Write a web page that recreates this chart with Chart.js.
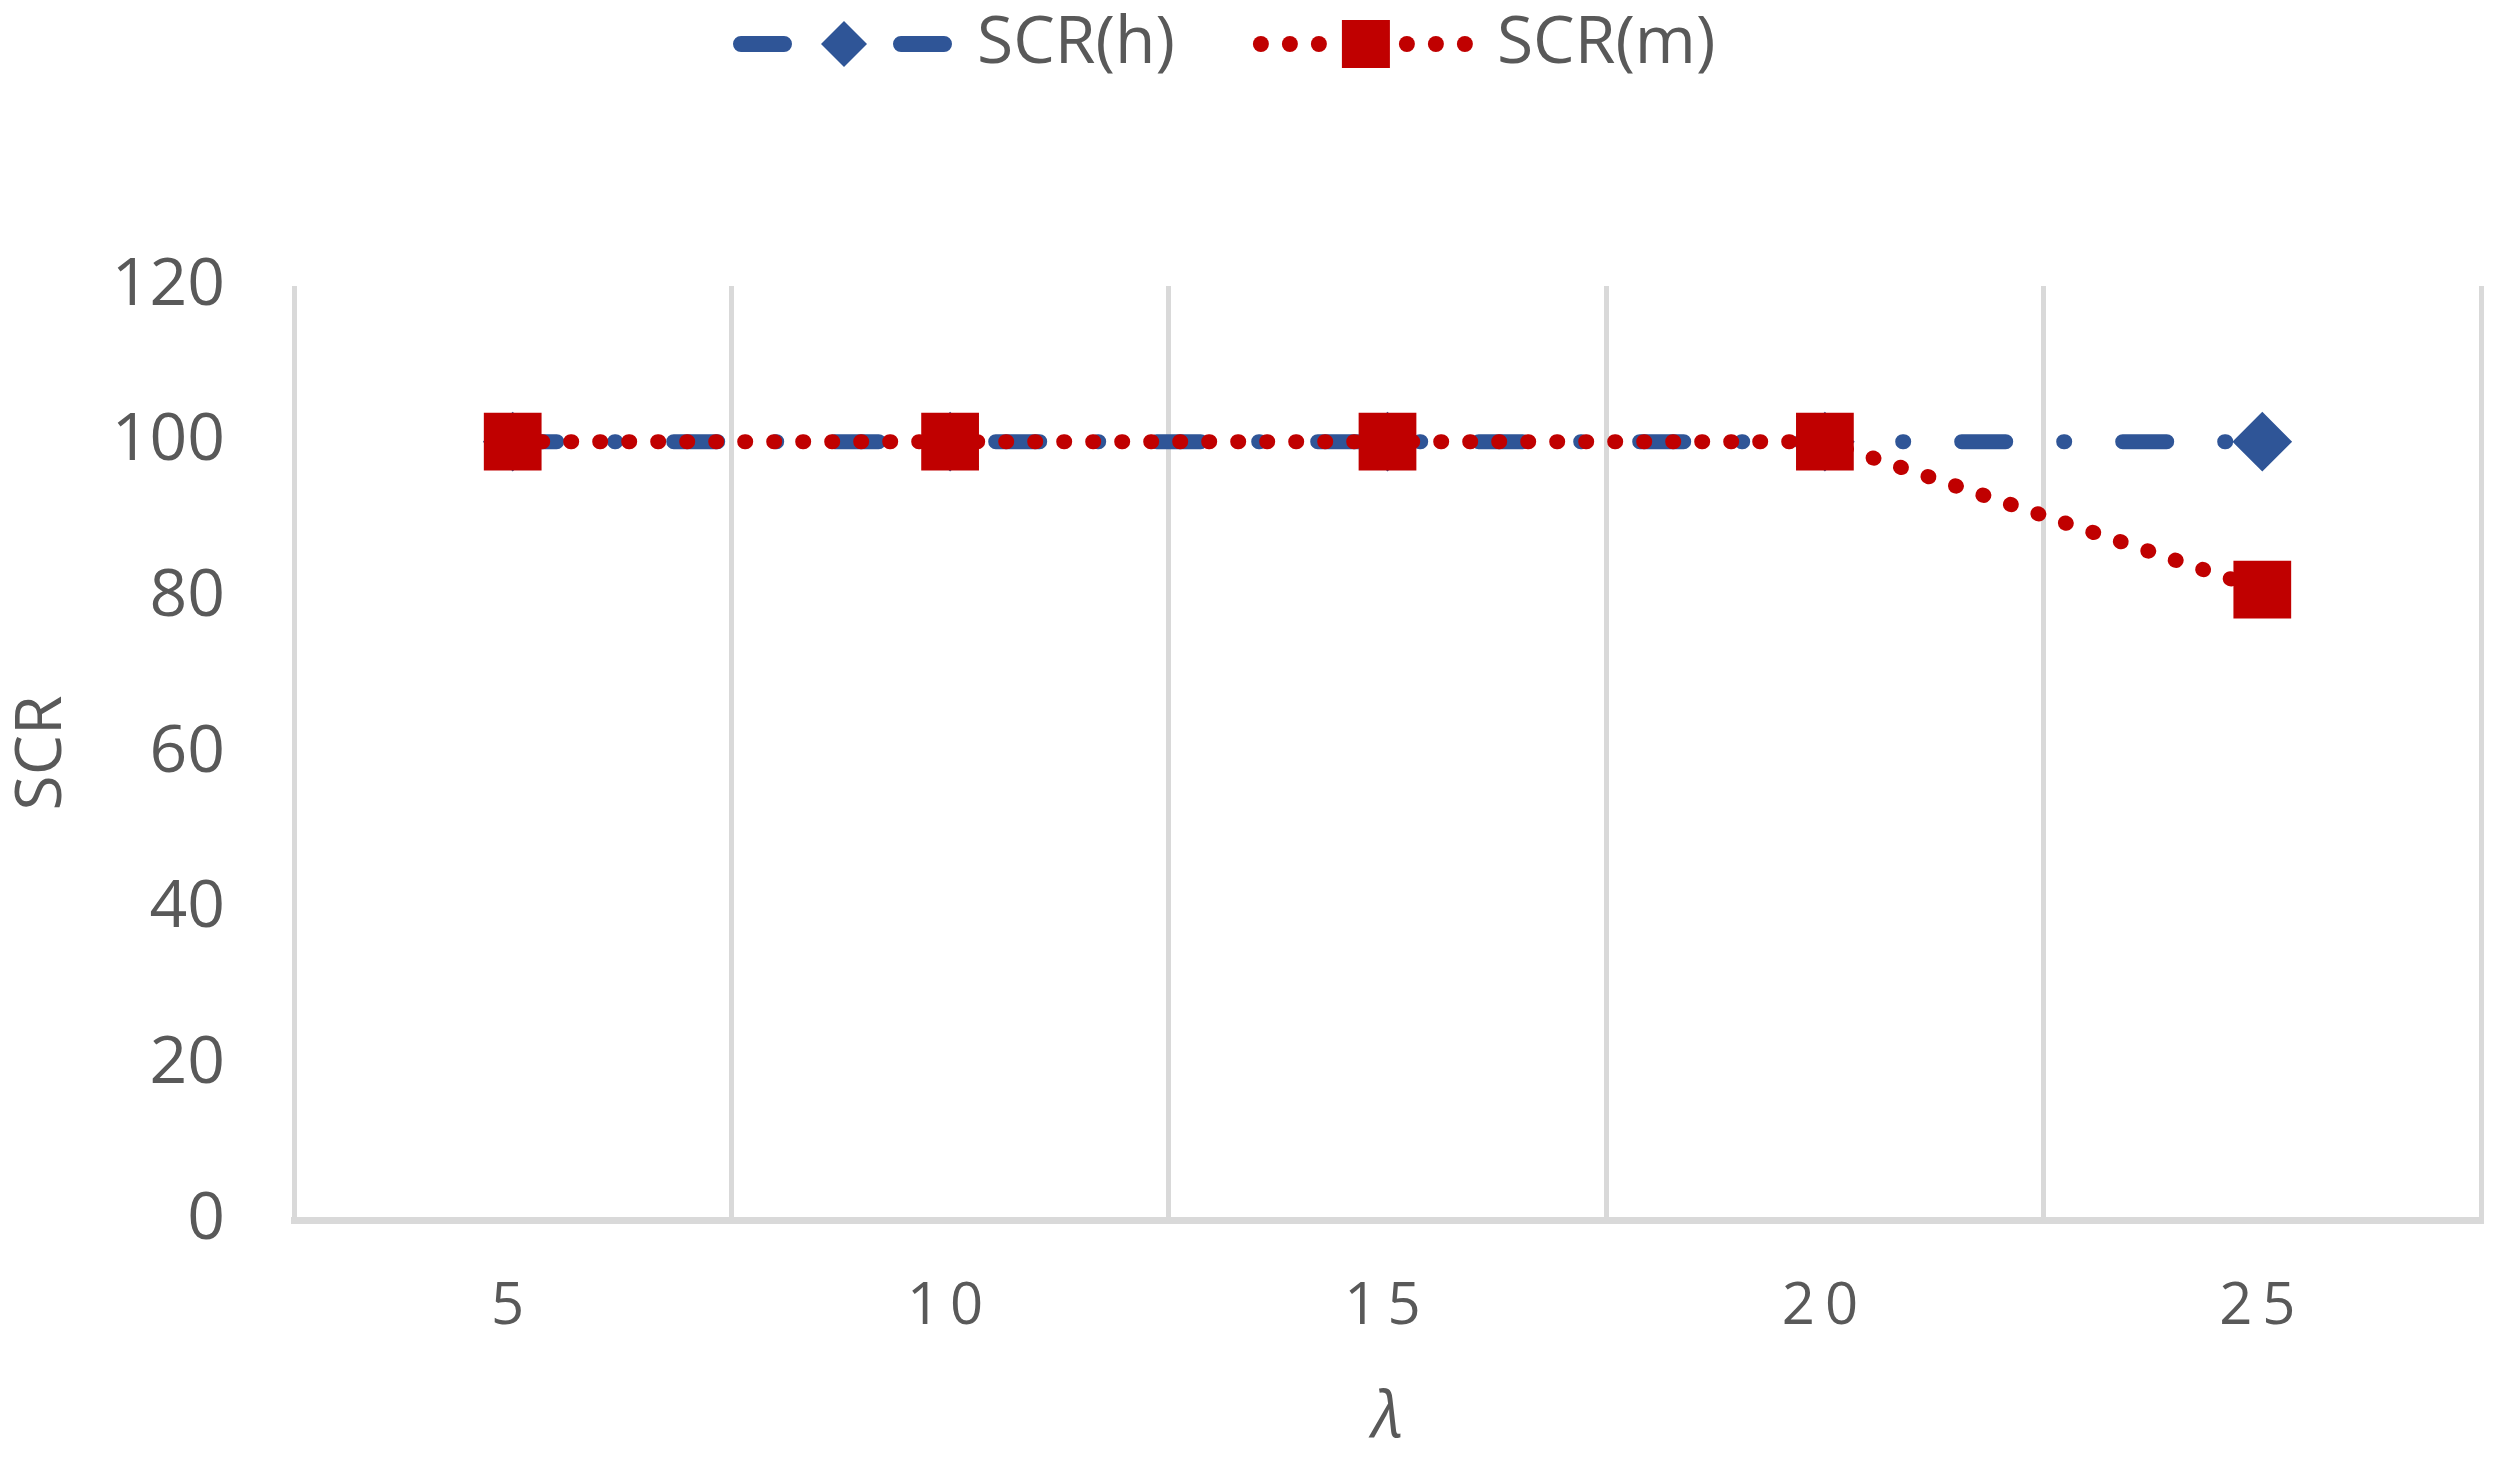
<!DOCTYPE html>
<html>
<head>
<meta charset="utf-8">
<title>SCR vs lambda</title>
<script src="https://cdn.jsdelivr.net/npm/chart.js@4.4.1/dist/chart.umd.min.js"></script>
<style>
  html, body { margin: 0; padding: 0; background: #fff; }
  canvas { display: block; }
</style>
</head>
<body>
<canvas id="scrChart" width="2509" height="1476"></canvas>
<script>
// valeurs
const lambdaLabels = ['5', '10', '15', '20', '25'];
const scrH = [100, 100, 100, 100, 100];
const scrM = [100, 100, 100, 100, 81];
const seriesNames = ['SCR(h)', 'SCR(m)'];
const yTicks = [0, 20, 40, 60, 80, 100, 120];

const blue = '#2F5597';
const red = '#C00000';
const textGrey = '#595959';
const gridGrey = '#D9D9D9';
const fontFamily = "'Open Sans', 'Liberation Sans', sans-serif";

// petit plugin : place la légende et dessine les échantillons façon Excel
const excelLegend = {
  id: 'excelLegend',
  beforeLayout(chart) {
    const lg = chart.legend;
    if (lg && !lg._fixedFit) {
      const fit = lg.fit;
      lg.fit = function () {
        fit.call(this);
        this.height = 286;
      };
      lg._fixedFit = true;
    }
  },
  afterLayout(chart) {
    const lg = chart.legend;
    const pad = lg.options.labels.padding;
    lg.left = 733 - pad;
    lg.top = 44 - pad - lg.options.labels.font.size / 2;
  },
  beforeDraw(chart) {
    // espacement des chiffres de l'axe x
    const xs = chart.scales.x;
    if (xs && !xs._spaced) {
      const drawLabels = xs.drawLabels;
      xs.drawLabels = function (area) {
        this.ctx.save();
        this.ctx.letterSpacing = '10px';
        drawLabels.call(this, area);
        this.ctx.restore();
      };
      xs._spaced = true;
    }
  },
  afterDraw(chart) {
    const ctx = chart.ctx;
    chart.legend.legendHitBoxes.forEach((hb, i) => {
      const x = hb.left;
      const y = hb.top + hb.height / 2;
      ctx.save();
      if (i === 0) {
        ctx.strokeStyle = blue;
        ctx.fillStyle = blue;
        ctx.lineCap = 'round';
        ctx.lineWidth = 16;
        ctx.beginPath();
        ctx.moveTo(x + 8, y); ctx.lineTo(x + 51, y);
        ctx.moveTo(x + 168, y); ctx.lineTo(x + 211, y);
        ctx.stroke();
        const r = 23;
        ctx.beginPath();
        ctx.moveTo(x + 111, y - r);
        ctx.lineTo(x + 111 + r, y);
        ctx.lineTo(x + 111, y + r);
        ctx.lineTo(x + 111 - r, y);
        ctx.closePath();
        ctx.fill();
      } else {
        ctx.fillStyle = red;
        [8, 37, 66, 154, 183, 212].forEach(dx => {
          ctx.beginPath();
          ctx.arc(x + dx, y, 8, 0, Math.PI * 2);
          ctx.fill();
        });
        ctx.fillRect(x + 113 - 24, y - 24, 48, 48);
      }
      ctx.restore();
    });
  }
};

const ctx = document.getElementById('scrChart').getContext('2d');
new Chart(ctx, {
  type: 'line',
  data: {
    labels: lambdaLabels,
    datasets: [{
      label: seriesNames[0],
      data: scrH,
      borderColor: blue,
      backgroundColor: blue,
      borderWidth: 15,
      borderDash: [44, 58, 1, 58],
      borderCapStyle: 'round',
      pointStyle: 'rectRot',
      pointRadius: 27,
      pointBorderWidth: 4,
      pointBackgroundColor: blue,
      pointBorderColor: blue,
      tension: 0,
      order: 2
    }, {
      label: seriesNames[1],
      data: scrM,
      borderColor: red,
      backgroundColor: red,
      borderWidth: 15,
      borderDash: [1, 28],
      borderCapStyle: 'round',
      pointStyle: 'rect',
      pointRadius: 38,
      pointBorderWidth: 4,
      pointBackgroundColor: red,
      pointBorderColor: red,
      tension: 0,
      order: 1
    }]
  },
  options: {
    responsive: false,
    animation: false,
    devicePixelRatio: 1,
    events: [],
    layout: {
      autoPadding: false,
      padding: { left: 0, right: 28, top: 0, bottom: 0 }
    },
    scales: {
      x: {
        type: 'category',
        offset: true,
        grid: { offset: true, color: gridGrey, lineWidth: 5, drawTicks: false },
        border: { display: true, color: gridGrey, width: 7 },
        ticks: {
          color: textGrey,
          font: { family: fontFamily, size: 58 },
          padding: 53,
          maxRotation: 0,
          autoSkip: false
        },
        title: {
          display: true,
          text: 'λ',
          color: textGrey,
          font: { family: fontFamily, size: 64, style: 'italic' },
          padding: { top: 0, bottom: 19 }
        },
        afterFit(scale) {
          scale.height = 256;
          scale.paddingLeft = 0;
          scale.paddingRight = 0;
        }
      },
      y: {
        min: yTicks[0],
        max: yTicks[yTicks.length - 1],
        grid: { display: false, drawTicks: false },
        border: { display: false },
        ticks: {
          stepSize: yTicks[1] - yTicks[0],
          color: textGrey,
          font: { family: fontFamily, size: 66 },
          padding: 69
        },
        title: {
          display: true,
          text: 'SCR',
          color: textGrey,
          font: { family: fontFamily, size: 64 },
          padding: { top: 4, bottom: 0 }
        },
        afterFit(scale) { scale.width = 294; }
      }
    },
    plugins: {
      tooltip: { enabled: false },
      legend: {
        position: 'top',
        align: 'start',
        labels: {
          boxWidth: 211,
          padding: 78,
          color: textGrey,
          font: { family: fontFamily, size: 66 },
          generateLabels: () => seriesNames.map((name, i) => ({
            text: name,
            fillStyle: 'rgba(0,0,0,0)',
            strokeStyle: 'rgba(0,0,0,0)',
            lineWidth: 0,
            hidden: false,
            datasetIndex: i,
            fontColor: textGrey
          }))
        }
      }
    }
  },
  plugins: [excelLegend]
});
</script>
</body>
</html>
